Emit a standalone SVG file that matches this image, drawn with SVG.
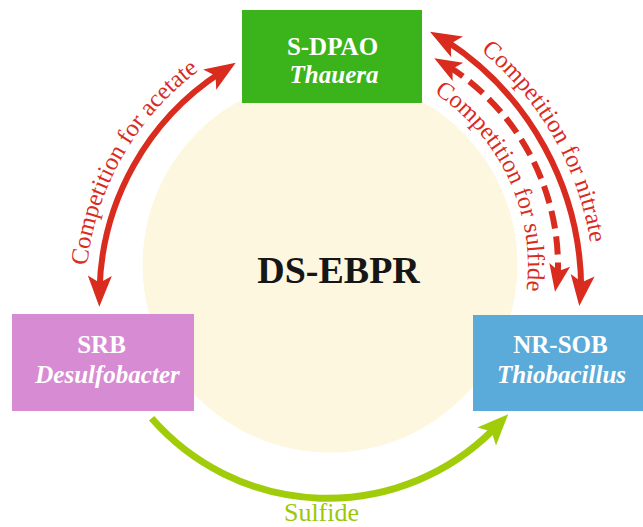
<svg xmlns="http://www.w3.org/2000/svg" xmlns:xlink="http://www.w3.org/1999/xlink" width="643" height="527" viewBox="0 0 643 527">
  <style>
    .t { font-family: "Liberation Serif", "Times New Roman", serif; }
    .box-t { fill: #ffffff; font-weight: bold; font-size: 25px; text-anchor: middle; }
    .it { font-style: italic; }
    .red-shaft { fill: none; stroke: #d92b1e; stroke-width: 6; }
    .dash { stroke-dasharray: 18 8; }
    .red-head { fill: #d92b1e; }
    .lbl { fill: #d92b1e; font-size: 24.5px; }
  </style>
  <defs>
    <path id="head" d="M0,0 L-31,-12 L-24,0 L-31,12 Z"/>
    <path id="p-acetate" d="M89.8,345 A281,281 0 0 1 268.6,32.8"/>
    <path id="p-nitrate" d="M391.3,-0.2 A310,310 0 0 1 589.1,345.8"/>
    <path id="p-sulfide" d="M408.2,78.7 A207,207 0 0 1 521,319.7"/>
  </defs>
  <rect width="643" height="527" fill="#ffffff"/>
  <circle id="center-circle" cx="330" cy="265" r="187.5" fill="#fdf7df"/>
  <text class="t" x="338.5" y="283" font-size="38" font-weight="bold" text-anchor="middle" fill="#161616">DS-EBPR</text>

  <g id="node-sdpao">
    <rect x="242" y="10" width="180" height="93" fill="#3bb31a"/>
    <text class="t box-t" x="332.5" y="55">S-DPAO</text>
    <text class="t box-t it" x="334" y="83">Thauera</text>
  </g>
  <g id="node-srb">
    <rect x="12" y="314" width="182" height="97" fill="#d68bd3"/>
    <text class="t box-t" x="101.5" y="353">SRB</text>
    <text class="t box-t it" x="107.5" y="383">Desulfobacter</text>
  </g>
  <g id="node-nrsob">
    <rect x="473" y="315" width="170" height="96" fill="#5aabd9"/>
    <text class="t box-t" x="560.5" y="353">NR-SOB</text>
    <text class="t box-t it" x="561.5" y="383">Thiobacillus</text>
  </g>

  <g id="connectors">
    <!-- acetate competition -->
    <path class="red-shaft" d="M99.6,288.7 A267,267 0 0 1 220.6,72.5"/>
    <use href="#head" class="red-head" transform="translate(235.7,62.7) rotate(-33)"/>
    <use href="#head" class="red-head" transform="translate(99.3,306.7) rotate(91)"/>
    <!-- nitrate competition -->
    <path class="red-shaft" d="M445.7,40.5 A298,298 0 0 1 581.2,288.1"/>
    <use href="#head" class="red-head" transform="translate(430,31.7) rotate(209.3)"/>
    <use href="#head" class="red-head" transform="translate(579.3,306) rotate(96.2)"/>
    <!-- sulfide competition (dashed) -->
    <path class="red-shaft dash" d="M448.2,66.3 A237,237 0 0 1 557.8,275.9"/>
    <use href="#head" class="red-head" transform="translate(434.3,58.3) rotate(210) scale(0.88)"/>
    <use href="#head" class="red-head" transform="translate(555,291.7) rotate(100) scale(0.88)"/>
    <!-- sulfide flow -->
    <path d="M151.6,418.3 A234,234 0 0 0 492.9,430.1" fill="none" stroke="#a1cc0a" stroke-width="7"/>
    <use href="#head" fill="#a1cc0a" transform="translate(508.2,414.3) rotate(-46) scale(1,1.08)"/>

    <text class="t lbl"><textPath href="#p-acetate" startOffset="50%" text-anchor="middle">Competition for acetate</textPath></text>
    <text class="t lbl"><textPath href="#p-nitrate" startOffset="50%" text-anchor="middle">Competition for nitrate</textPath></text>
    <text class="t lbl"><textPath href="#p-sulfide" startOffset="50%" text-anchor="middle">Competition for sulfide</textPath></text>
    <text class="t" x="321.5" y="520.5" font-size="26" text-anchor="middle" fill="#9cc70a">Sulfide</text>
  </g>
</svg>
